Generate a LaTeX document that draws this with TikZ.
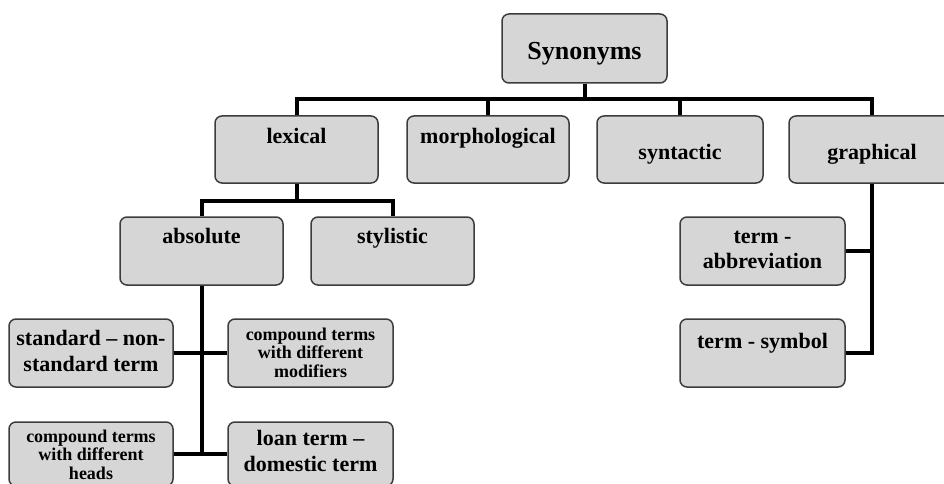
\documentclass[tikz,border=0pt]{standalone}
\usepackage{fontspec}
\setmainfont{Liberation Serif}
\definecolor{boxfill}{RGB}{214,214,214}
\definecolor{boxline}{RGB}{60,60,60}
\tikzset{
  box/.style={draw=boxline, fill=boxfill, line width=1.5pt, rounded corners=7pt, inner sep=0pt},
  conn/.style={draw=black, line width=4pt},
  txt/.style={anchor=base, inner sep=0pt, font=\fontsize{22}{26}\selectfont\bfseries},
  bigtxt/.style={anchor=base, inner sep=0pt, font=\fontsize{26}{30}\selectfont\bfseries},
  smalltxt/.style={anchor=base, inner sep=0pt, font=\fontsize{18}{20}\selectfont\bfseries},
}
\begin{document}
\begin{tikzpicture}[x=1pt,y=-1pt]
\useasboundingbox (0,0) rectangle (944,484);
\clip (0,0) rectangle (944,484);
\fill[white] (0,0) rectangle (944,484);

% coordinates for buses
\coordinate (bus1) at (0,99);
\coordinate (bus2) at (0,201);

% boxes
\node[box, minimum width=165pt, minimum height=69pt] (syn) at (584.5,48.5) {};
\node[box, minimum width=163pt, minimum height=67pt] (lex) at (296.5,149.5) {};
\node[box, minimum width=162pt, minimum height=67pt] (mor) at (488,149.5) {};
\node[box, minimum width=166pt, minimum height=67pt] (syt) at (680,149.5) {};
\node[box, minimum width=166pt, minimum height=67pt] (gra) at (872,149.5) {};
\node[box, minimum width=163pt, minimum height=68pt] (abs) at (201.5,251) {};
\node[box, minimum width=163pt, minimum height=68pt] (sty) at (392.5,251) {};
\node[box, minimum width=164pt, minimum height=68pt] (std) at (91,353) {};
\node[box, minimum width=165pt, minimum height=68pt] (cmo) at (310.5,353) {};
\node[box, minimum width=164pt, minimum height=64pt] (che) at (91,454) {};
\node[box, minimum width=165pt, minimum height=64pt] (loa) at (310.5,454) {};
\node[box, minimum width=165pt, minimum height=68pt] (tab) at (762.5,251) {};
\node[box, minimum width=165pt, minimum height=68pt] (tsy) at (762.5,353) {};

% connectors
\draw[conn] (syn.south) -- (syn.south |- bus1);
\draw[conn] (lex.north) -- (lex.north |- bus1) -- (gra.north |- bus1) -- (gra.north);
\draw[conn] (mor.north) -- (mor.north |- bus1);
\draw[conn] (syt.north) -- (syt.north |- bus1);

\draw[conn] (lex.south) -- (lex.south |- bus2);
\draw[conn] (abs.north) -- (abs.north |- bus2) -- (sty.north |- bus2) -- (sty.north);

\draw[conn] (abs.south) -- (abs.south |- che.east);
\draw[conn] (std.east) -- (cmo.west);
\draw[conn] (che.east) -- (loa.west);

\draw[conn] (gra.south) -- (gra.south |- tsy.east) -- (tsy.east);
\draw[conn] (tab.east) -- (tab.east -| gra.south);

% texts
\node[bigtxt] (t-syn) at (584.5,60) {Synonyms};
\node[txt] (t-lex) at (296.5,143) {lexical};
\node[txt] (t-mor) at (488,143) {morphological};
\node[txt] (t-syt) at (680,159) {syntactic};
\node[txt] (t-gra) at (872,159) {graphical};
\node[txt] (t-abs) at (201.5,243) {absolute};
\node[txt] (t-sty) at (392.5,243) {stylistic};
\node[txt] (t-std1) at (91,345) {standard – non-};
\node[txt] (t-std2) at (91,371) {standard term};
\node[smalltxt] (t-cmo1) at (310.5,340) {compound terms};
\node[smalltxt] (t-cmo2) at (310.5,358.5) {with different};
\node[smalltxt] (t-cmo3) at (310.5,377) {modifiers};
\node[smalltxt] (t-che1) at (91,442) {compound terms};
\node[smalltxt] (t-che2) at (91,460) {with different};
\node[smalltxt] (t-che3) at (91,479) {heads};
\node[txt] (t-loa1) at (310.5,445) {loan term –};
\node[txt] (t-loa2) at (310.5,471.5) {domestic term};
\node[txt] (t-tab1) at (762.5,243) {term -};
\node[txt] (t-tab2) at (762.5,268) {abbreviation};
\node[txt] (t-tsy) at (762.5,348) {term - symbol};
\end{tikzpicture}
\end{document}
